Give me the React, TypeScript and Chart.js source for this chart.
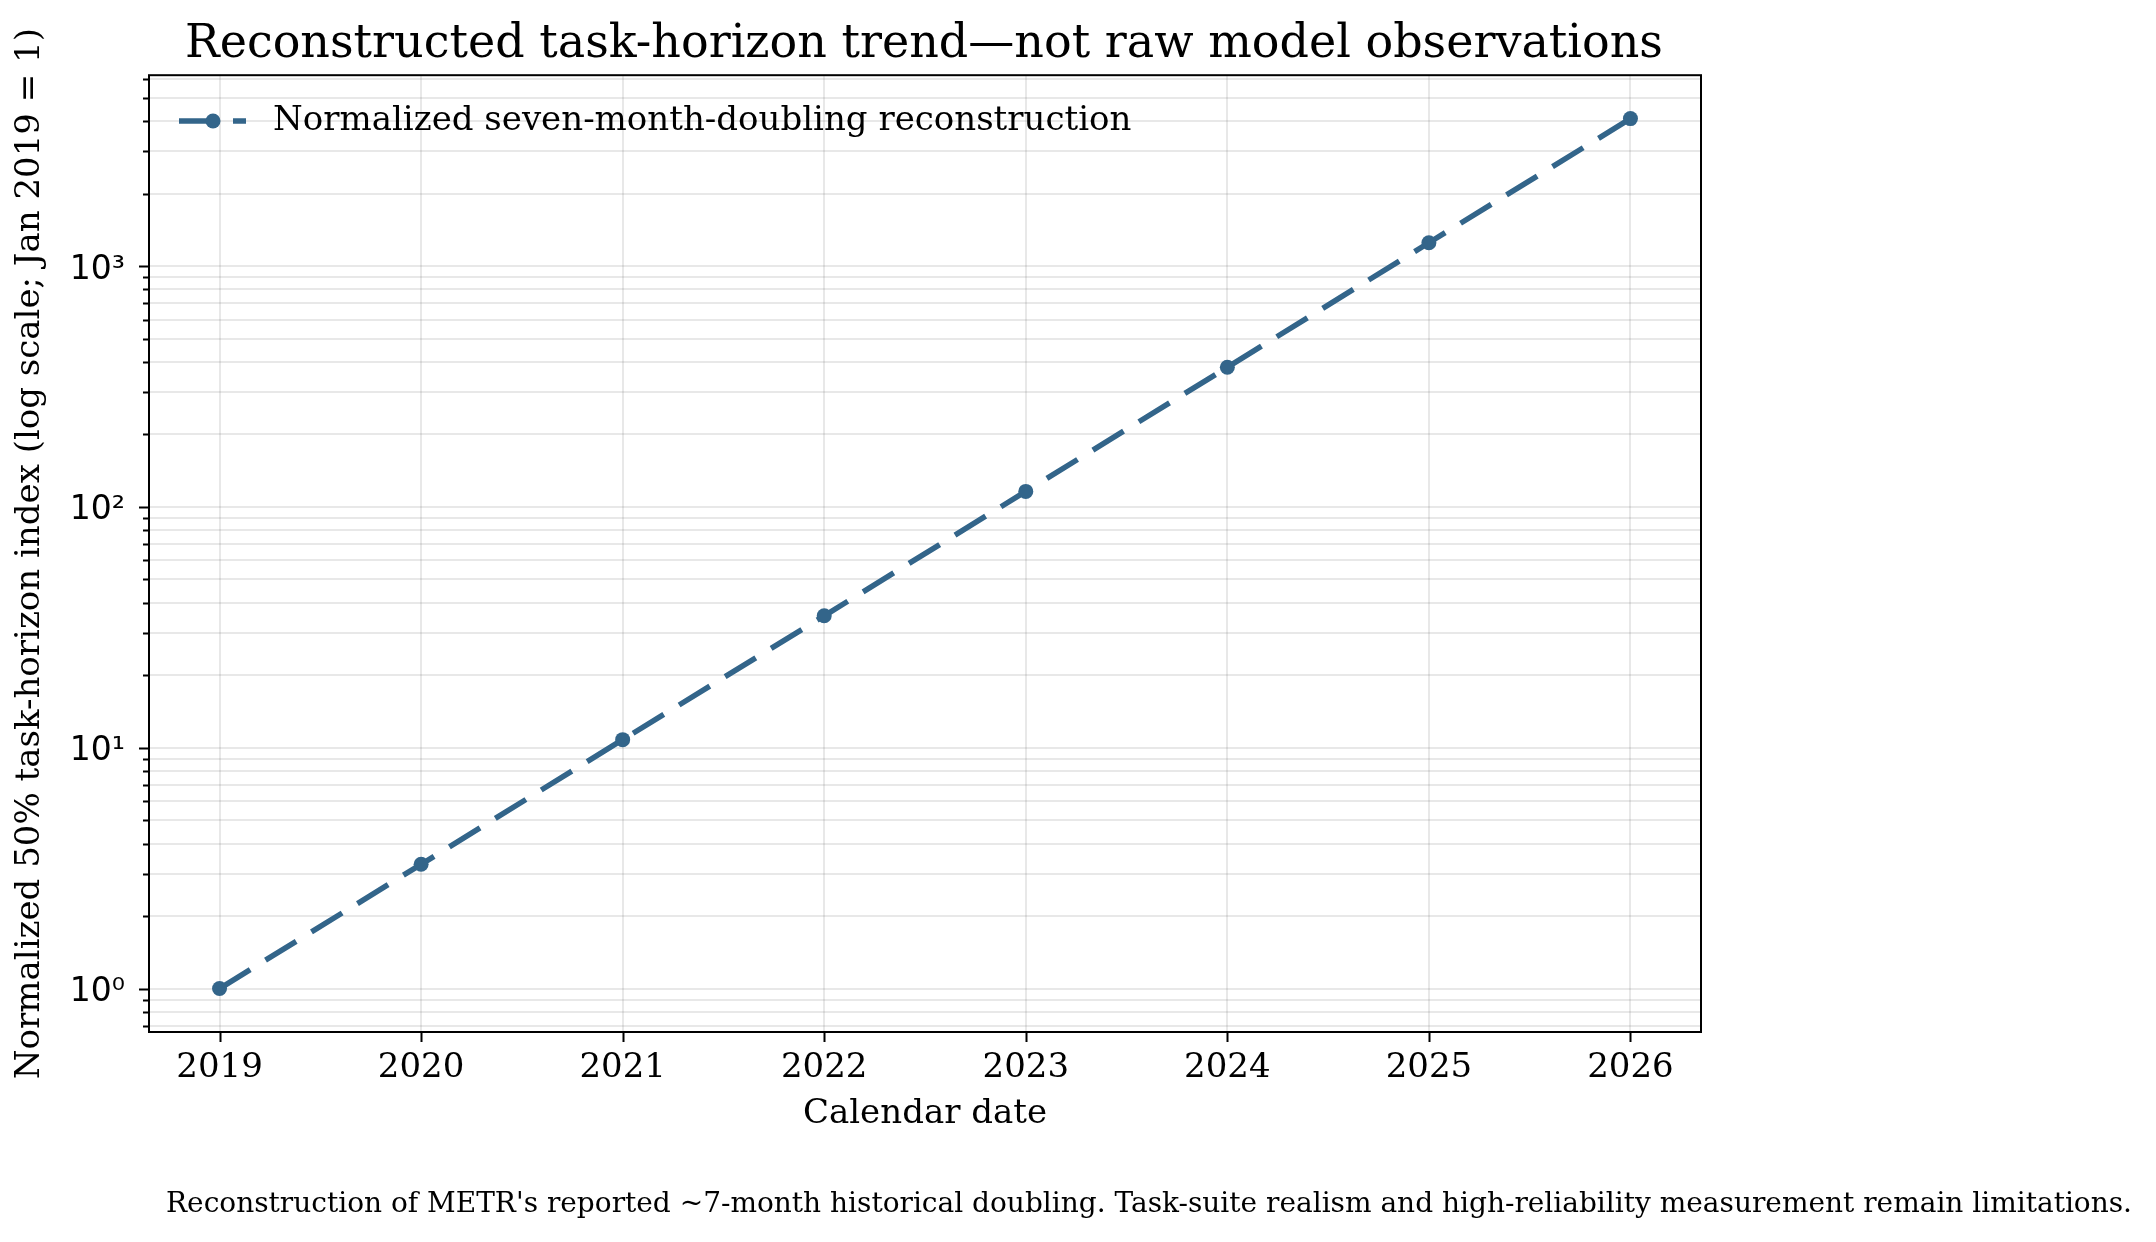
import React, { useEffect, useRef } from 'react';
import { Chart, registerables } from 'chart.js';

Chart.register(...registerables);

// data
const years = [2019, 2020, 2021, 2022, 2023, 2024, 2025, 2026];
const horizonIndex = [1, 3.28, 10.8, 35.3, 116, 380, 1250, 4096];
const yearLabels = ['2019', '2020', '2021', '2022', '2023', '2024', '2025', '2026'];
const yMajorTicks = [1, 10, 100, 1000];
const yMajorLabels = ['10⁰', '10¹', '10²', '10³'];
const yMinorSteps = [2, 3, 4, 5, 6, 7, 8, 9];
const yDecades = [0.1, 1, 10, 100, 1000];

const seriesName = 'Normalized seven-month-doubling reconstruction';
const titleText = 'Reconstructed task-horizon trend\u2014not raw model observations';
const xTitle = 'Calendar date';
const yTitle = 'Normalized 50% task-horizon index (log scale; Jan 2019 = 1)';
const footnote =
  "Reconstruction of METR's reported ~7-month historical doubling. Task-suite realism and high-reliability measurement remain limitations.";

const X_MIN = 2018.65;
const X_MAX = 2026.35;
const Y_MIN = 0.66;
const Y_MAX = 6204;

const W = 2156;
const H = 1242;
const LINE = '#33658a';
const GRID = 'rgba(0,0,0,0.09)';
const SERIF = '"DejaVu Serif", serif';
const SANS = '"DejaVu Sans", sans-serif';

const yMinorTicks = yDecades
  .flatMap((d) => yMinorSteps.map((m) => d * m))
  .filter((v) => v >= Y_MIN && v <= Y_MAX);
const yAllTicks = [...yMinorTicks, ...yMajorTicks].sort((a, b) => a - b);

const framePlugin = {
  id: 'frame',
  afterDraw(chart: any) {
    const { ctx, chartArea: a, scales } = chart;
    ctx.save();
    ctx.strokeStyle = '#000';
    ctx.lineWidth = 2;
    // tick marks
    ctx.beginPath();
    years.forEach((v) => {
      const x = Math.round(scales.x.getPixelForValue(v)) + 0.5;
      ctx.moveTo(x, a.bottom);
      ctx.lineTo(x, a.bottom + 10);
    });
    yAllTicks.forEach((v) => {
      const y = Math.round(scales.y.getPixelForValue(v)) + 0.5;
      const len = yMajorTicks.includes(v) ? 10 : 6;
      ctx.moveTo(a.left, y);
      ctx.lineTo(a.left - len, y);
    });
    ctx.stroke();
    ctx.strokeRect(a.left, a.top, a.right - a.left, a.bottom - a.top);

    // legend
    const ly = 121;
    ctx.strokeStyle = LINE;
    ctx.lineWidth = 5.5;
    ctx.setLineDash([36, 18]);
    ctx.beginPath();
    ctx.moveTo(179, ly);
    ctx.lineTo(246, ly);
    ctx.stroke();
    ctx.setLineDash([]);
    ctx.fillStyle = LINE;
    ctx.beginPath();
    ctx.arc(213, ly, 7.5, 0, Math.PI * 2);
    ctx.fill();
    ctx.fillStyle = '#000';
    ctx.font = `34px ${SERIF}`;
    ctx.textAlign = 'left';
    ctx.textBaseline = 'middle';
    ctx.fillText(seriesName, 273, ly);

    // footnote
    ctx.font = `28px ${SERIF}`;
    ctx.textAlign = 'right';
    ctx.fillText(footnote, 2132, 1205);
    ctx.restore();
  },
};

const App = () => {
  const canvasRef = useRef<HTMLCanvasElement>(null);

  useEffect(() => {
    if (!canvasRef.current) return;
    const chart = new Chart(canvasRef.current, {
      type: 'line',
      data: {
        datasets: [
          {
            label: seriesName,
            data: years.map((x, i) => ({ x, y: horizonIndex[i] })),
            borderColor: LINE,
            backgroundColor: LINE,
            borderWidth: 5.5,
            borderDash: [36, 18],
            pointRadius: 7.5,
            pointBorderWidth: 0,
            pointBackgroundColor: LINE,
            tension: 0,
          },
        ],
      },
      options: {
        animation: false,
        responsive: false,
        devicePixelRatio: 1,
        // title box spans 0..1848 so it is centred over the axes (x = 924)
        layout: { padding: { left: 0, top: 0, right: 308, bottom: 0 } },
        plugins: {
          legend: { display: false },
          tooltip: { enabled: false },
          title: {
            display: true,
            text: titleText,
            color: '#000',
            font: { family: SERIF, size: 46, weight: 'normal' },
            padding: { top: 17, bottom: 3 },
          },
        },
        scales: {
          x: {
            type: 'linear',
            min: X_MIN,
            max: X_MAX,
            afterBuildTicks: (s: any) => {
              s.ticks = years.map((v) => ({ value: v }));
            },
            afterFit: (s: any) => {
              s.height = H - 1032;
            },
            grid: { color: GRID, lineWidth: 2, drawTicks: false },
            border: { display: false },
            ticks: {
              color: '#000',
              padding: 16,
              maxRotation: 0,
              autoSkip: false,
              font: { family: SERIF, size: 34 },
              callback: (v: any) => yearLabels[years.indexOf(Number(v))] ?? '',
            },
            title: {
              display: true,
              text: xTitle,
              color: '#000',
              font: { family: SERIF, size: 34 },
              padding: { top: 0, bottom: 107 },
            },
          },
          y: {
            type: 'logarithmic',
            min: Y_MIN,
            max: Y_MAX,
            afterBuildTicks: (s: any) => {
              s.ticks = yAllTicks.map((v) => ({ value: v }));
            },
            afterFit: (s: any) => {
              s.width = 149;
            },
            grid: { color: GRID, lineWidth: 2, drawTicks: false },
            border: { display: false },
            ticks: {
              color: '#000',
              padding: 24,
              autoSkip: false,
              labelOffset: 4,
              font: { family: SANS, size: 33 },
              callback: (v: any) => {
                const i = yMajorTicks.indexOf(Number(v));
                return i >= 0 ? yMajorLabels[i] : '';
              },
            },
            title: {
              display: true,
              text: yTitle,
              color: '#000',
              font: { family: SERIF, size: 34 },
              padding: { top: 10, bottom: 0 },
            },
          },
          // empty right-hand spacer so the plot area ends at x = 1701
          spacer: {
            type: 'linear',
            position: 'right',
            display: true,
            grid: { display: false },
            border: { display: false },
            ticks: { display: false },
            afterFit: (s: any) => {
              s.width = W - 308 - 1701;
            },
          },
        },
      },
      plugins: [framePlugin],
    });
    return () => chart.destroy();
  }, []);

  return (
    <div style={{ position: 'absolute', left: 0, top: 0, width: W, height: H, background: '#fff' }}>
      <canvas ref={canvasRef} width={W} height={H} />
    </div>
  );
};

export default App;
